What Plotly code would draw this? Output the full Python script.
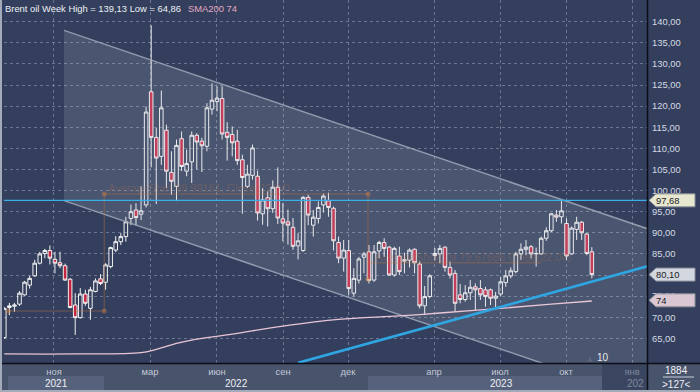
import plotly.graph_objects as go

# ---------------- data (weekly bars) ----------------
bar_index = list(range(117))
opens = [65.2, 72.3, 72.6, 73.1, 75.3, 77.6, 79.8, 82.8, 85.1, 85.8,
         83.7, 82.9, 82.2, 79.0, 72.9, 69.9, 75.5, 72.1, 76.1, 79.1,
         78.3, 82.0, 85.9, 87.9, 89.1, 93.4, 95.4, 94.4, 96.6, 123.4,
         112.6, 108.1, 114.3, 104.3, 101.0, 112.3, 104.6, 106.8, 113.1, 111.7,
         110.5, 119.3, 121.1, 121.8, 113.8, 113.3, 111.7, 107.3, 101.0, 103.6,
         103.4, 94.5, 98.3, 95.7, 100.8, 93.3, 92.6, 91.3, 86.9, 85.8,
         98.4, 91.8, 93.4, 96.6, 97.6, 95.8, 87.7, 84.0, 85.8, 75.7,
         78.8, 84.2, 85.5, 78.8, 85.7, 87.7, 86.6, 80.0, 84.5, 83.3,
         83.5, 86.1, 82.6, 72.7, 74.9, 84.6, 85.0, 86.6, 81.8, 80.4,
         75.3, 74.2, 75.8, 77.2, 76.8, 76.5, 76.5, 74.5, 75.5, 78.2,
         79.8, 80.8, 85.0, 86.1, 86.7, 85.0, 85.0, 88.7, 90.5, 94.2,
         93.8, 92.2, 85.0, 90.8, 92.5, 89.7, 85.5]
highs = [72.4, 73.4, 73.4, 76.2, 78.6, 79.8, 83.6, 85.5, 86.2, 87.0,
         85.5, 85.5, 82.7, 79.3, 75.7, 76.9, 76.5, 77.2, 79.2, 80.2,
         82.8, 86.7, 89.2, 89.9, 93.8, 96.7, 97.0, 101.0, 119.9, 139.13,
         114.8, 123.7, 115.6, 109.3, 112.1, 114.0, 109.7, 114.0, 113.6, 112.5,
         120.7, 125.4, 124.7, 124.7, 116.2, 115.2, 114.4, 108.5, 106.1, 110.9,
         104.7, 100.6, 99.8, 102.4, 105.5, 97.1, 95.5, 93.5, 89.9, 98.7,
         99.0, 95.4, 97.4, 99.3, 99.5, 96.2, 89.1, 88.3, 88.3, 81.6,
         84.3, 85.5, 87.1, 87.1, 88.1, 88.7, 86.9, 86.7, 86.7, 85.3,
         86.3, 86.3, 83.2, 77.4, 80.2, 86.4, 87.1, 86.8, 83.2, 81.2,
         77.9, 77.6, 78.8, 78.0, 78.8, 77.2, 76.8, 76.0, 79.5, 81.2,
         81.8, 85.5, 87.5, 88.3, 87.1, 86.5, 89.1, 91.3, 94.7, 95.4,
         97.68, 93.4, 91.5, 93.8, 92.8, 90.0, 86.6]
lows = [64.86, 70.5, 71.3, 72.7, 75.1, 76.8, 79.6, 82.5, 84.0, 82.5,
        80.4, 81.6, 78.6, 72.1, 65.8, 69.7, 72.7, 69.4, 75.9, 77.6,
        76.5, 81.6, 85.4, 87.1, 87.9, 91.8, 91.8, 93.0, 96.0, 105.5,
        96.8, 106.1, 100.6, 99.0, 97.5, 104.6, 103.4, 101.8, 105.0, 104.4,
        109.3, 118.0, 118.8, 112.1, 107.1, 108.1, 106.1, 94.5, 100.6, 102.6,
        92.9, 91.9, 91.5, 94.7, 92.1, 88.0, 87.2, 86.0, 83.7, 85.5,
        91.8, 89.1, 92.2, 94.8, 93.8, 85.8, 82.8, 80.8, 75.3, 74.9,
        78.0, 80.4, 78.0, 78.4, 84.0, 84.3, 79.8, 79.6, 80.0, 80.4,
        81.8, 80.4, 72.1, 70.5, 74.5, 83.5, 82.8, 80.8, 79.2, 71.3,
        73.3, 73.7, 74.1, 71.6, 74.1, 72.5, 72.9, 72.3, 75.0, 77.2,
        79.2, 80.4, 83.6, 84.7, 83.9, 82.0, 84.8, 88.1, 90.2, 92.6,
        92.2, 83.6, 84.8, 88.3, 88.3, 84.7, 79.2]
closes = [72.1, 72.7, 72.9, 75.7, 78.3, 79.2, 82.8, 85.0, 85.8, 84.0,
          82.8, 82.2, 78.8, 72.3, 69.9, 75.5, 73.3, 76.5, 78.6, 78.0,
          82.4, 86.5, 87.9, 89.1, 92.6, 95.0, 93.6, 95.2, 118.6, 112.6,
          107.7, 119.6, 104.6, 102.2, 110.7, 105.7, 106.4, 113.1, 111.5, 110.6,
          119.6, 121.4, 121.9, 113.4, 112.6, 111.3, 107.1, 103.1, 103.9, 110.1,
          94.7, 97.8, 95.7, 100.8, 93.5, 92.3, 91.8, 86.8, 88.1, 98.4,
          94.2, 93.7, 96.0, 98.7, 96.0, 88.1, 84.0, 85.9, 76.8, 79.2,
          83.8, 85.0, 78.7, 85.5, 87.7, 86.3, 80.0, 86.3, 80.8, 83.6,
          85.9, 82.9, 72.7, 74.9, 79.8, 85.1, 86.3, 81.8, 80.0, 73.3,
          74.2, 75.8, 77.1, 76.5, 75.3, 74.9, 74.5, 75.0, 78.4, 79.8,
          81.0, 85.0, 86.1, 86.6, 85.0, 85.1, 88.7, 90.5, 94.5, 93.7,
          95.2, 84.5, 91.1, 92.5, 90.0, 85.1, 80.1]

month_pos = [9.81, 28.77, 41.99, 55.03, 67.86, 84.84, 97.87, 110.9, 123.93]
month_labels = ["ноя", "мар", "июн", "сен", "дек", "апр", "июл", "окт", "янв"]
year_pos = [10.4, 45.9, 98.1, 124.6]
year_labels = ["2021", "2022", "2023", "202"]
price_ticks = [65, 70, 75, 80, 85, 90, 95, 100, 105, 110, 115, 120, 125, 130, 135, 140]
hidden_price_labels = [80]   # covered by the last-price tag in the picture

sma_idx = [0, 14, 27, 30, 34, 37, 45, 55, 66, 78, 86, 98, 108, 116]
sma_val = [61.3, 61.3, 61.6, 62.4, 63.8, 64.6, 66.0, 67.9, 69.5, 70.3, 71.0, 72.1, 73.1, 73.85]

channel_idx = [11.79, 127.09]
channel_top = [137.94, 90.9]
channel_bottom = [97.62, 50.6]
trend_idx = [58.0, 127.1]
trend_val = [59.2, 82.1]
level_value = 97.68
last_close = 80.10
sma_last = 74
total_bars = "1884"
visible_bars = ">127<"
shift_label = "10"

measure_a_idx = [0.8, 19.74, 19.74, 71.8, 71.8]
measure_a_val = [71.5, 71.5, 99.2, 99.2, 79.0]
measure_b_idx = [71.8, 106.0]
measure_b_val = [82.9, 82.9]

# ---------------- geometry ----------------
W, H = 700, 392
PL, PR, PT, PB = 4, 647, 0, 363
X_RANGE = [-0.06, 126.89]
Y_RANGE = [59.16, 145.14]
PX_PER_UNIT = (PB - PT) / (Y_RANGE[1] - Y_RANGE[0])


def px_x(px):
    return (px - PL) / (PR - PL)


def px_y(py):
    return (PB - py) / (PB - PT)


BG = "#333f5c"
PANEL = "#48536c"
GRID = "rgba(125,137,163,0.75)"
FONT = "Liberation Sans, Arial"
FS = 9.4
FAINT = "rgba(196,118,64,0.30)"

fig = go.Figure()

# channel fill
fig.add_trace(go.Scatter(
    x=[channel_idx[0], channel_idx[1], channel_idx[1], channel_idx[0], channel_idx[0]],
    y=[channel_top[0], channel_top[1], channel_bottom[1], channel_bottom[0], channel_top[0]],
    fill="toself", fillcolor="rgba(190,198,214,0.17)", line=dict(width=0),
    mode="lines", hoverinfo="skip", showlegend=False))
for edge in (channel_top, channel_bottom):
    fig.add_trace(go.Scatter(x=channel_idx, y=edge, mode="lines",
                             line=dict(color="rgba(160,168,184,0.85)", width=1.5),
                             hoverinfo="skip", showlegend=False))

# faint measuring-tool remnants
fig.add_trace(go.Scatter(x=measure_a_idx, y=measure_a_val, mode="lines+markers",
                         line=dict(color=FAINT, width=1.5),
                         marker=dict(size=5, color="rgba(215,130,70,0.42)"),
                         hoverinfo="skip", showlegend=False))
fig.add_trace(go.Scatter(x=measure_b_idx, y=measure_b_val, mode="lines",
                         line=dict(color=FAINT, width=1.5),
                         hoverinfo="skip", showlegend=False))

# SMA200
fig.add_trace(go.Scatter(x=sma_idx, y=sma_val, mode="lines", line_shape="spline",
                         line=dict(color="#e9c6d6", width=1.3),
                         hoverinfo="skip", showlegend=False))

# trend line
fig.add_trace(go.Scatter(x=trend_idx, y=trend_val, mode="lines",
                         line=dict(color="#2fa6e2", width=2.6),
                         hoverinfo="skip", showlegend=False))

# candles
fig.add_trace(go.Candlestick(
    x=bar_index, open=opens, high=highs, low=lows, close=closes,
    increasing=dict(line=dict(color="#f2f2f2", width=1), fillcolor="rgba(0,0,0,0)"),
    decreasing=dict(line=dict(color="#f2f2f2", width=1), fillcolor="#c42341"),
    whiskerwidth=0, showlegend=False))

shapes = []
# bottom panel and right-bottom panel backgrounds
shapes.append(dict(type="rect", xref="paper", yref="paper", x0=px_x(0), x1=px_x(W),
                   y0=px_y(H), y1=px_y(PB), fillcolor=PANEL, line_width=0, layer="below"))
shapes.append(dict(type="rect", xref="paper", yref="paper", x0=px_x(8), x1=px_x(104),
                   y0=px_y(390), y1=px_y(376), fillcolor="#56617b", line_width=0, layer="below"))
shapes.append(dict(type="rect", xref="paper", yref="paper", x0=px_x(368), x1=px_x(602),
                   y0=px_y(390), y1=px_y(376), fillcolor="#56617b", line_width=0, layer="below"))
shapes.append(dict(type="rect", xref="paper", yref="paper", x0=px_x(602), x1=px_x(PR),
                   y0=px_y(390), y1=px_y(364), fillcolor="#3a4560", line_width=0, layer="below"))
# horizontal level line
shapes.append(dict(type="line", xref="paper", yref="y", x0=0, x1=1, y0=level_value, y1=level_value,
                   line=dict(color="#3ab0e6", width=1.2)))
# separators
shapes.append(dict(type="line", xref="paper", yref="paper", x0=px_x(PR + 0.5), x1=px_x(PR + 0.5),
                   y0=px_y(H), y1=px_y(0), line=dict(color="#0d0f16", width=1.5)))
shapes.append(dict(type="line", xref="paper", yref="paper", x0=px_x(0), x1=px_x(W),
                   y0=px_y(PB + 0.5), y1=px_y(PB + 0.5), line=dict(color="#0d0f16", width=1.5)))
shapes.append(dict(type="line", xref="paper", yref="paper", x0=px_x(663), x1=px_x(694),
                   y0=px_y(377), y1=px_y(377), line=dict(color="#c9cfdb", width=1)))
# outer frame (left, bottom)
shapes.append(dict(type="line", xref="paper", yref="paper", x0=px_x(1), x1=px_x(1),
                   y0=px_y(H), y1=px_y(0), line=dict(color="#a3abbb", width=2)))
shapes.append(dict(type="line", xref="paper", yref="paper", x0=px_x(0), x1=px_x(W),
                   y0=px_y(H - 1), y1=px_y(H - 1), line=dict(color="#a3abbb", width=2)))

# price tags on the right axis
half_h = 6.5 / PX_PER_UNIT
tags = [(level_value, "97,68", "#e8e7cf"), (last_close, "80,10", "#d3d7df"), (sma_last, "74", "#d9c8d3")]
annotations = []
for val, txt, col in tags:
    xa, xb, xc = px_x(649), px_x(656), px_x(695)
    path = (f"M {xa},{val} L {xb},{val + half_h} L {xc},{val + half_h} "
            f"L {xc},{val - half_h} L {xb},{val - half_h} Z")
    shapes.append(dict(type="path", xref="paper", yref="y", path=path,
                       fillcolor=col, line=dict(color="#8a8f9a", width=1)))
    annotations.append(dict(xref="paper", yref="y", x=px_x(654), y=val, text=txt,
                            xanchor="left", yanchor="middle", showarrow=False,
                            font=dict(family=FONT, size=FS, color="#1a1d26")))

# title
annotations.append(dict(xref="paper", yref="paper", x=px_x(3), y=px_y(1), xanchor="left", yanchor="top",
                        text="Brent oil Week High = 139,13 Low = 64,86", showarrow=False,
                        font=dict(family=FONT, size=FS, color="#eef0f5")))
annotations.append(dict(xref="paper", yref="paper", x=px_x(186), y=px_y(1), xanchor="left", yanchor="top",
                        text="SMA200 74", showarrow=False,
                        font=dict(family=FONT, size=FS, color="#e3a9c3")))
# year labels
for pos, lab in zip(year_pos, year_labels):
    col = "#7f889c" if lab == "202" else "#eef0f5"
    annotations.append(dict(xref="x", yref="paper", x=pos, y=px_y(383), text=lab, showarrow=False,
                            xanchor="center", yanchor="middle",
                            font=dict(family=FONT, size=FS + 0.6, color=col)))
# bar counters
annotations.append(dict(xref="paper", yref="paper", x=px_x(676), y=px_y(370), text=total_bars,
                        showarrow=False, xanchor="center", yanchor="middle",
                        font=dict(family=FONT, size=FS + 0.6, color="#eef0f5")))
annotations.append(dict(xref="paper", yref="paper", x=px_x(676), y=px_y(384), text=visible_bars,
                        showarrow=False, xanchor="center", yanchor="middle",
                        font=dict(family=FONT, size=FS + 0.6, color="#eef0f5")))
annotations.append(dict(xref="paper", yref="paper", x=px_x(603), y=px_y(357), text=shift_label,
                        showarrow=False, xanchor="center", yanchor="middle",
                        font=dict(family=FONT, size=FS + 0.6, color="#e6e8ee")))
annotations.append(dict(xref="paper", yref="paper", x=px_x(590), y=px_y(359), text="▲",
                        showarrow=False, xanchor="center", yanchor="middle",
                        font=dict(family="DejaVu Sans", size=7, color="#5d6577")))
# faint tool captions
annotations.append(dict(xref="paper", yref="paper", x=px_x(106), y=px_y(188), text="AverageStart 99,99151; Close(22,04)",
                        showarrow=False, xanchor="left", yanchor="middle",
                        font=dict(family=FONT, size=11, color="rgba(196,118,64,0.28)")))
annotations.append(dict(xref="paper", yref="paper", x=px_x(373), y=px_y(257), text="AverageShort oil 79,67686 Close(22,04)",
                        showarrow=False, xanchor="left", yanchor="middle",
                        font=dict(family=FONT, size=11, color="rgba(196,118,64,0.28)")))

tick_text = [f'<span style="color:#7f889c">{m}</span>' if m == "янв" else m for m in month_labels]
price_text = ["" if v in hidden_price_labels else f"{v:.2f}".replace(".", ",") for v in price_ticks]

fig.update_layout(
    width=W, height=H,
    margin=dict(l=PL, r=W - PR, t=PT, b=H - PB, pad=0),
    paper_bgcolor=BG, plot_bgcolor=BG,
    showlegend=False,
    boxgap=0.3, boxgroupgap=0.0,
    shapes=shapes, annotations=annotations,
    xaxis=dict(range=X_RANGE, rangeslider=dict(visible=False), tickvals=month_pos, ticktext=tick_text,
               showgrid=True, gridcolor=GRID, griddash="3px,3px", gridwidth=1,
               zeroline=False, showline=False, ticks="", ticklabelstandoff=2,
               tickfont=dict(family=FONT, size=FS, color="#c3c9d6"), fixedrange=True),
    yaxis=dict(range=Y_RANGE, side="right", tickvals=price_ticks, ticktext=price_text,
               showgrid=True, gridcolor=GRID, griddash="3px,3px", gridwidth=1,
               zeroline=False, showline=False, ticks="", ticklabelstandoff=4,
               tickfont=dict(family=FONT, size=FS, color="#d6dae4"), fixedrange=True),
)

fig.write_html("out.html", config={"displayModeBar": False},
               post_script="document.body.style.margin='0';document.body.style.overflow='hidden';")
